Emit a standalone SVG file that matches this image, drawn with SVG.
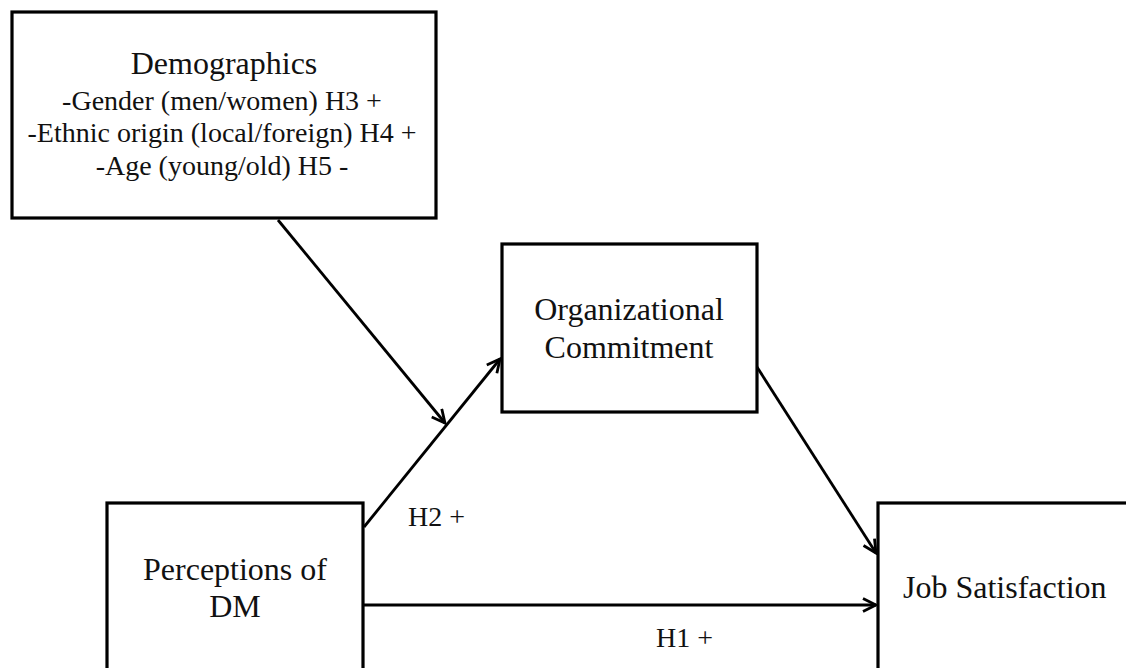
<svg xmlns="http://www.w3.org/2000/svg" width="1126" height="668" viewBox="0 0 1126 668">
<style>
.box{fill:#fff;stroke:#000;stroke-width:3.2}
.t{font-family:"Liberation Serif","Times New Roman",serif;fill:#111}
.big{font-size:32px}
.sm{font-size:28px}
.ln{stroke:#000;stroke-width:2.8;fill:none}
</style>
<defs>
<marker id="ah" viewBox="0 0 16 16" refX="14" refY="8" markerWidth="16" markerHeight="16" markerUnits="userSpaceOnUse" orient="auto">
<path d="M1,1.5 L14,8 L1,14.5" fill="none" stroke="#000" stroke-width="2.8"/>
</marker>
</defs>
<rect width="1126" height="668" fill="#fff"/>
<g id="connectors">
<line class="ln" x1="278" y1="220" x2="445" y2="423" marker-end="url(#ah)"/>
<line class="ln" x1="364" y1="527" x2="500" y2="359" marker-end="url(#ah)"/>
<line class="ln" x1="757" y1="367" x2="876" y2="553" marker-end="url(#ah)"/>
<line class="ln" x1="364" y1="605" x2="876" y2="605" marker-end="url(#ah)"/>
<text class="t sm" x="408" y="526">H2 +</text>
<text class="t sm" x="656" y="647">H1 +</text>
</g>
<g id="demographics">
<rect class="box" x="12" y="12" width="424" height="206"/>
<text class="t big" x="224" y="74" text-anchor="middle">Demographics</text>
<text class="t sm" x="222" y="110" text-anchor="middle">-Gender (men/women) H3 +</text>
<text class="t sm" x="222" y="142" text-anchor="middle">-Ethnic origin (local/foreign) H4 +</text>
<text class="t sm" x="222" y="175" text-anchor="middle">-Age (young/old) H5 -</text>
</g>
<g id="org-commitment">
<rect class="box" x="502" y="244" width="255" height="168"/>
<text class="t big" x="629" y="320" text-anchor="middle">Organizational</text>
<text class="t big" x="629" y="358" text-anchor="middle">Commitment</text>
</g>
<g id="perceptions">
<rect class="box" x="107" y="503" width="256" height="180"/>
<text class="t big" x="235" y="580" text-anchor="middle">Perceptions of</text>
<text class="t big" x="235" y="617" text-anchor="middle">DM</text>
</g>
<g id="job-satisfaction">
<rect class="box" x="878" y="503" width="260" height="180"/>
<text class="t big" x="903" y="598">Job Satisfaction</text>
</g>
</svg>
